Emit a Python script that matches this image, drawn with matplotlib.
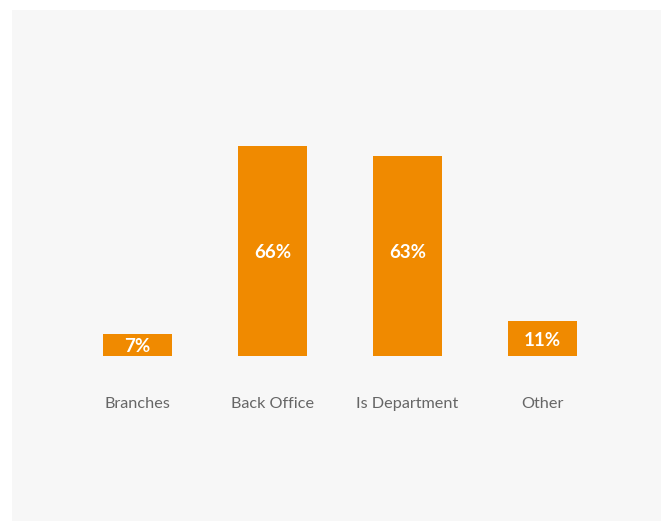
import matplotlib.pyplot as plt

# data
categories = ['Branches', 'Back Office', 'Is Department', 'Other']
values = [7, 66, 63, 11]
value_labels = ['7%', '66%', '63%', '11%']

plt.rcParams['font.family'] = ['Lato', 'DejaVu Sans']

W, H = 670, 522
fig = plt.figure(figsize=(W / 100, H / 100), dpi=100, facecolor='white')

# panel in pixels: x 12..661, y 10..521 (from top)
px_l, px_r, px_t, px_b = 12, 661, 10, 521
ax = fig.add_axes([px_l / W, 1 - px_b / H, (px_r - px_l) / W, (px_b - px_t) / H])
ax.set_facecolor('#f7f7f7')

# scale: bar spacing 135 px, 3.18 px per percent, baseline at y=356
step = 135.0
c0 = 137.5
ppu = 3.18
base = 356
ax.set_xlim(-(c0 - px_l) / step, (px_r - c0) / step)
ax.set_ylim(-(px_b - base) / ppu, (base - px_t) / ppu)

xs = range(len(categories))
ax.bar(xs, values, width=69 / step, color='#f08a00')

for x, v, lab, cat in zip(xs, values, value_labels, categories):
    # tall bars get their label at a common height, short ones in the middle
    ly = 32.5 if v > 50 else v / 2 - 0.6
    ax.text(x, ly, lab, ha='center', va='center', color='white',
            fontsize=13.5, fontweight='bold')
    ax.text(x, -(404 - base) / ppu, cat, ha='center', va='center',
            color='#666666', fontsize=11.7)

ax.set_xticks([])
ax.set_yticks([])
for s in ax.spines.values():
    s.set_visible(False)

plt.savefig('out.png', dpi=100, facecolor='white')
